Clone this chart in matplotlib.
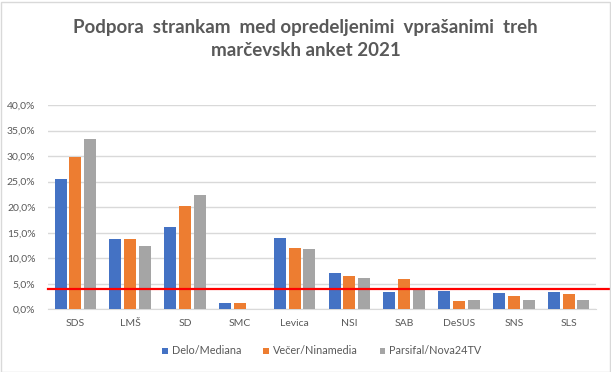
import numpy as np
import matplotlib
matplotlib.use('Agg')
import matplotlib.pyplot as plt
from matplotlib.ticker import FuncFormatter
from matplotlib.patches import Rectangle

plt.rcParams['font.family'] = ['Lato', 'DejaVu Sans']

# Data (percent)
stranke = ['SDS', 'LMŠ', 'SD', 'SMC', 'Levica', 'NSI', 'SAB', 'DeSUS', 'SNS', 'SLS']
delo = [25.5, 13.8, 16.1, 1.2, 14.0, 7.1, 3.4, 3.6, 3.2, 3.4]
vecer = [29.9, 13.8, 20.2, 1.2, 12.0, 6.5, 5.9, 1.6, 2.6, 3.0]
parsifal = [33.3, 12.4, 22.4, 0.0, 11.8, 6.1, 3.8, 1.8, 1.8, 1.8]
serije = ['Delo/Mediana', 'Večer/Ninamedia', 'Parsifal/Nova24TV']
prag = 4.0

barve = ['#4472C4', '#ED7D31', '#A5A5A5']
tekst = '#595959'

fig = plt.figure(figsize=(6.11, 3.72), dpi=100)
ax = fig.add_axes([48 / 611, 1 - 309.3 / 372, (596 - 48) / 611, (309.3 - 105) / 372])

x = np.arange(len(stranke))
w = 0.22
off = 0.27
for i, (vals, name) in enumerate(zip([delo, vecer, parsifal], serije)):
    ax.bar(x + (i - 1) * off, vals, width=w, color=barve[i], label=name, zorder=3)

ax.set_xlim(-0.5, len(stranke) - 0.5)
ax.set_ylim(0, 40)
ax.set_yticks(np.arange(0, 41, 5))
ax.yaxis.set_major_formatter(FuncFormatter(lambda v, p: f'{v:.1f}%'.replace('.', ',')))
ax.set_xticks(x)
ax.set_xticklabels(stranke)
ax.tick_params(axis='both', length=0, labelsize=7.5, labelcolor=tekst)
ax.tick_params(axis='y', pad=9)
ax.tick_params(axis='x', pad=7)
ax.grid(axis='y', color='#d9d9d9', linewidth=1, zorder=0)
for s in ['top', 'right', 'left']:
    ax.spines[s].set_visible(False)
ax.spines['bottom'].set_color('#d9d9d9')
ax.set_axisbelow(True)

# red threshold line, runs past the plot area to the right edge
ax.plot([-0.5, len(stranke) - 0.5 + 15 / 54.8], [prag, prag], color='#FF0000',
        linewidth=1.6, zorder=5, clip_on=False)

fig.text(0.5, 1 - 39 / 372, 'Podpora  strankam  med opredeljenimi  vprašanimi  treh\nmarčevskh anket 2021',
         ha='center', va='center', fontsize=13.5, fontweight='bold', color=tekst, linespacing=1.45)

ax.legend(loc='center', bbox_to_anchor=(0.5, (309.3 - 351) / (309.3 - 105)), ncol=3,
          frameon=False, fontsize=7.8, labelcolor=tekst, handlelength=0.5, handleheight=0.5,
          handletextpad=0.4, columnspacing=2.0)

fig.patches.append(Rectangle((0.5 / 611, 0.5 / 372), 1 - 2 / 611, 1 - 2 / 372, transform=fig.transFigure,
                             fill=False, edgecolor='#d9d9d9', linewidth=1))

fig.savefig('out.png', dpi=100)
